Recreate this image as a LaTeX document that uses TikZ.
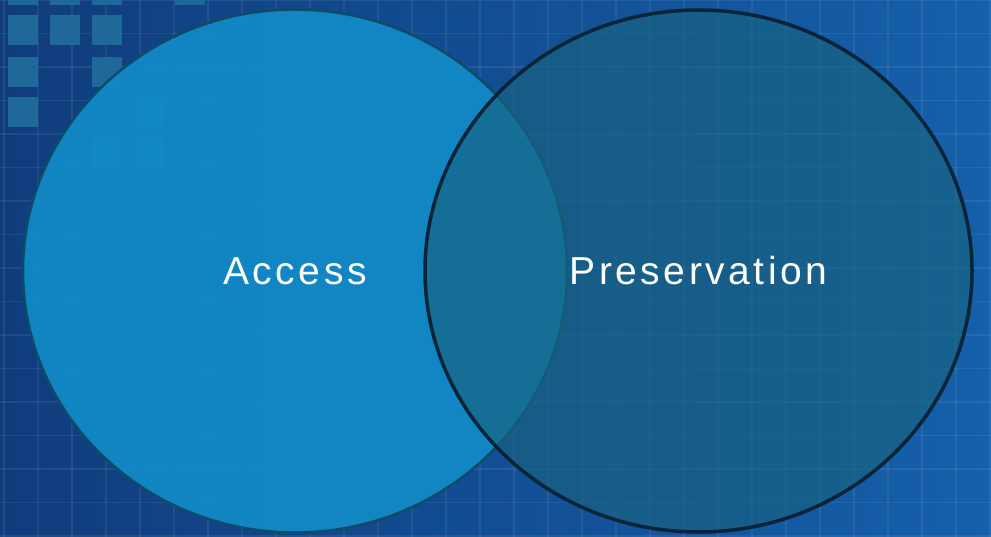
\documentclass[tikz,border=0pt]{standalone}
\usepackage{fontspec}
\usetikzlibrary{shapes.geometric}
\newfontfamily\vennfont[LetterSpace=9]{Liberation Sans}
\definecolor{bgdark}{RGB}{16,60,124}
\definecolor{bglight}{RGB}{21,96,170}
\definecolor{tilecol}{RGB}{30,104,154}
\definecolor{accessfill}{RGB}{17,138,198}
\definecolor{accessline}{RGB}{12,76,104}
\definecolor{presfill}{RGB}{24,99,128}
\definecolor{presline}{RGB}{9,36,56}

\begin{document}
\begin{tikzpicture}[x=1pt,y=-1pt]
        % Define the style for the nodes
        \tikzset{
            venn/.style={ellipse,inner sep=0pt,outer sep=0pt,text=white,
                font=\vennfont\fontsize{39}{45}\selectfont},
            tile/.style={fill=tilecol,draw=none},
            gridline/.style={white,opacity=0.07,line width=1.2pt}
        }

        % Background
        \useasboundingbox (0,0) rectangle (991,537);
        \shade[left color=bgdark,right color=bglight] (0,0) rectangle (991,537);
        \foreach \gx in {4,38,...,991} {
            \draw[gridline] (\gx,0) -- (\gx,537);
        }
        \foreach \gy in {0,33.5,...,537} {
            \draw[gridline] (0,\gy) -- (991,\gy);
        }
        \foreach \tx/\ty in {8/-25,50/-25,92/-25,175/-25,8/15,50/15,92/15,8/57,92/57,8/97,92/137,134/137,134/97} {
            \fill[tile] (\tx,\ty) rectangle ++(30,30);
        }

        % Nodes
        \node[venn,minimum width=544pt,minimum height=523pt,
            fill=accessfill,fill opacity=0.94,text opacity=1,
            draw=accessline,line width=2.5pt] (access) at (295,271) {Access};
        \node[venn,minimum width=547pt,minimum height=522pt,
            fill=presfill,fill opacity=0.66,text opacity=1,
            draw=presline,draw opacity=1,line width=3.5pt] (preservation) at (698.5,271) {Preservation};
    \end{tikzpicture}
\end{document}
